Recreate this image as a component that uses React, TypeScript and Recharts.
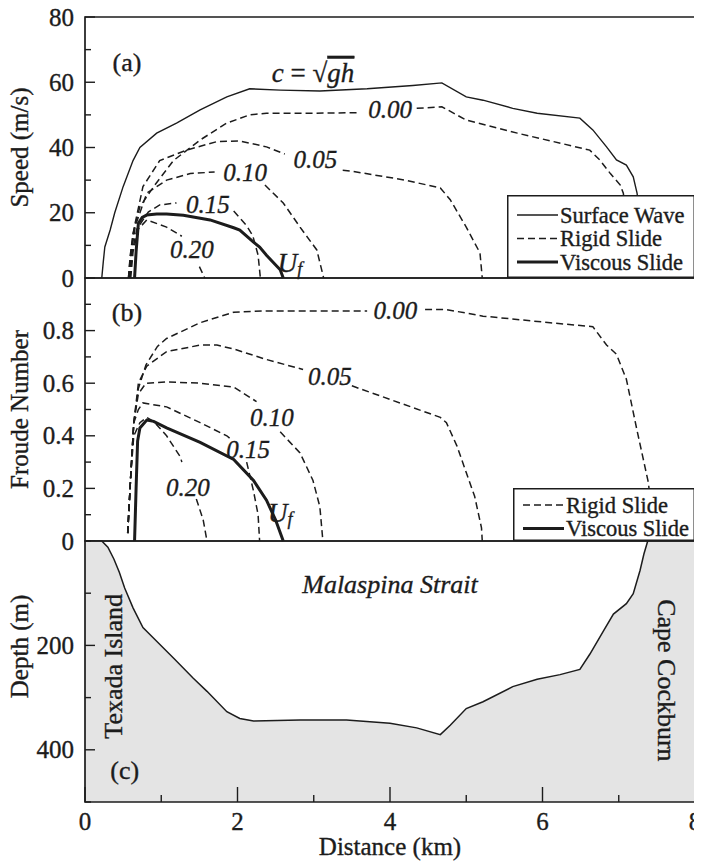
import React from 'react';
import {
  LineChart,
  ComposedChart,
  Line,
  Area,
  XAxis,
  YAxis,
  ReferenceArea,
  ReferenceDot,
  Legend,
} from 'recharts';

const FONT = 'Liberation Serif';
const INK = '#1c1c1c';
const LAND = '#e4e4e4';

type Pt = { x: number; y: number | null };
const pts = (arr: [number, number | null][]): Pt[] => arr.map(([x, y]) => ({ x, y }));

// ---------- Panel (a): speed (m/s) ----------
const surfaceWaveA = pts([
  [0.22, 0], [0.24, 5], [0.26, 9.5], [0.33, 14.7], [0.39, 20], [0.5, 28], [0.63, 36], [0.72, 40],
  [0.94, 44.4], [1.2, 47.5], [1.51, 51.5], [1.86, 55.5], [2.16, 58], [2.56, 57.6], [3.08, 57.3],
  [3.7, 58], [4.3, 59], [4.68, 59.8], [5.0, 55.5], [5.22, 54.5], [5.61, 52], [5.93, 50.5],
  [6.49, 49], [6.66, 45.4], [6.84, 40.2], [6.97, 36.2], [7.1, 34.6], [7.19, 31], [7.24, 26],
  [7.3, 15], [7.33, 0],
]);
const rigid000A = pts([
  [0.57, 0], [0.59, 6], [0.63, 13.8], [0.72, 21.8], [0.9, 28], [1.16, 36], [1.51, 42.3],
  [1.86, 47.5], [2.16, 50], [2.38, 50.5], [3.0, 50.5], [3.61, 50.7], [3.62, null], [4.35, 52],
  [4.68, 52.5], [5.0, 48.4], [5.67, 44.4], [6.62, 39.2], [6.75, 36.2], [6.89, 32], [7.02, 28.5],
  [7.06, 26], [7.12, 15], [7.15, 0],
]);
const rigid005A = pts([
  [0.57, 0], [0.6, 8], [0.65, 16], [0.76, 28], [0.98, 36], [1.33, 39.2], [1.73, 41.8], [2.03, 42],
  [2.38, 40.2], [2.62, 38], [2.63, null], [3.38, 33], [3.48, 32.8], [4.2, 30], [4.66, 27.6],
  [4.79, 24], [5.0, 15.6], [5.18, 7.7], [5.21, 0],
]);
const rigid010A = pts([
  [0.58, 0], [0.61, 8], [0.66, 16], [0.81, 26], [1.07, 30], [1.38, 32], [1.7, 32.5], [1.71, null],
  [2.36, 28.5], [2.6, 23], [2.82, 15.6], [3.04, 8.6], [3.13, 0],
]);
const rigid015A = pts([
  [0.59, 0], [0.62, 8], [0.68, 15], [0.83, 20.2], [0.98, 22.4], [1.2, 23], [1.22, null],
  [1.95, 20.5], [2.12, 16], [2.2, 13], [2.27, 7], [2.3, 0],
]);
const rigid020A = pts([
  [0.6, 0], [0.63, 8], [0.7, 15], [0.81, 17.8], [1.07, 15.6], [1.27, 12.8], [1.28, null],
  [1.5, 3.5], [1.57, 0],
]);
const viscousA = pts([
  [0.65, 0], [0.67, 8], [0.7, 16.8], [0.75, 18.6], [0.81, 19.3], [0.94, 19.6], [1.07, 19.6],
  [1.29, 19.2], [1.64, 17.8], [1.95, 15.4], [2.03, 14.7], [2.21, 11], [2.29, 9.5], [2.38, 7],
  [2.56, 2.5], [2.6, 0],
]);

// ---------- Panel (b): Froude number ----------
const rigid000B = pts([
  [0.56, 0.03], [0.6, 0.25], [0.64, 0.45], [0.7, 0.58], [0.8, 0.67], [0.95, 0.74], [1.07, 0.77],
  [1.51, 0.83], [1.95, 0.87], [2.38, 0.875], [3.0, 0.875], [3.7, 0.875], [3.71, null],
  [4.46, 0.88], [4.74, 0.88], [5.22, 0.855], [6.1, 0.83], [6.66, 0.815], [6.84, 0.745],
  [6.97, 0.71], [7.1, 0.615], [7.24, 0.42], [7.39, 0.22], [7.43, 0.1],
]);
const rigid005B = pts([
  [0.56, 0.03], [0.6, 0.25], [0.64, 0.45], [0.7, 0.6], [0.81, 0.665], [1.07, 0.72], [1.51, 0.745],
  [1.73, 0.745], [1.95, 0.73], [2.38, 0.69], [2.86, 0.652], [2.87, null], [3.5, 0.59],
  [4.13, 0.525], [4.66, 0.47], [4.74, 0.45], [4.88, 0.36], [5.0, 0.26], [5.11, 0.17],
  [5.2, 0.05], [5.21, 0],
]);
const rigid010B = pts([
  [0.56, 0.03], [0.6, 0.25], [0.64, 0.45], [0.7, 0.56], [0.8, 0.6], [1.07, 0.605], [1.51, 0.6],
  [1.95, 0.585], [2.25, 0.53], [2.26, null], [2.56, 0.415], [2.82, 0.335], [2.99, 0.23],
  [3.08, 0.13], [3.12, 0],
]);
const rigid015B = pts([
  [0.56, 0.03], [0.6, 0.25], [0.64, 0.45], [0.7, 0.5], [0.76, 0.525], [1.07, 0.51], [1.51, 0.45],
  [1.86, 0.4], [1.9, 0.39], [1.91, null], [2.12, 0.3], [2.21, 0.19], [2.27, 0.1], [2.29, 0],
]);
const rigid020B = pts([
  [0.56, 0.03], [0.6, 0.25], [0.64, 0.4], [0.72, 0.45], [0.81, 0.47], [0.9, 0.455], [1.07, 0.4],
  [1.25, 0.32], [1.27, 0.3], [1.28, null], [1.46, 0.16], [1.55, 0.08], [1.6, 0],
]);
const viscousB = pts([
  [0.65, 0], [0.67, 0.2], [0.69, 0.38], [0.72, 0.43], [0.81, 0.46], [0.9, 0.455], [1.07, 0.43],
  [1.51, 0.375], [1.95, 0.31], [2.21, 0.23], [2.38, 0.155], [2.5, 0.08], [2.6, 0],
]);

// ---------- Panel (c): bathymetry, depth (m) ----------
const bathymetry = pts([
  [0, 0], [0.22, 0], [0.3, 12], [0.38, 35], [0.45, 60], [0.52, 90], [0.63, 128], [0.76, 166],
  [0.94, 192], [1.16, 224], [1.42, 263], [1.6, 288], [1.86, 327], [2.03, 340], [2.21, 345],
  [2.82, 343], [3.43, 343], [4.0, 349], [4.35, 358], [4.66, 371], [4.79, 353], [5.0, 321],
  [5.22, 308], [5.61, 279], [5.93, 265], [6.23, 256], [6.49, 246], [6.62, 217], [6.8, 172],
  [6.93, 140], [7.1, 120], [7.19, 101], [7.28, 56], [7.33, 25], [7.38, 0], [8, 0],
]);

// ---------- ticks ----------
const distanceTicks = [0, 1, 2, 3, 4, 5, 6, 7, 8];
const distanceLabels = [0, 2, 4, 6, 8];
const speedTicks = [0, 10, 20, 30, 40, 50, 60, 70, 80];
const speedLabels = [0, 20, 40, 60, 80];
const froudeTicks = [0, 0.1, 0.2, 0.3, 0.4, 0.5, 0.6, 0.7, 0.8, 0.9];
const froudeLabels = [0, 0.2, 0.4, 0.6, 0.8];
const depthTicks = [0, 100, 200, 300, 400, 500];
const depthLabels = [200, 400];

// ---------- curve labels ----------
const speedCurveLabels: { x: number; y: number; t: string }[] = [
  { x: 4.0, y: 51.5, t: '0.00' },
  { x: 3.02, y: 36.2, t: '0.05' },
  { x: 2.1, y: 32.2, t: '0.10' },
  { x: 1.61, y: 22.4, t: '0.15' },
  { x: 1.4, y: 8.6, t: '0.20' },
];
const froudeCurveLabels: { x: number; y: number; t: string }[] = [
  { x: 4.07, y: 0.875, t: '0.00' },
  { x: 3.21, y: 0.627, t: '0.05' },
  { x: 2.45, y: 0.47, t: '0.10' },
  { x: 2.14, y: 0.347, t: '0.15' },
  { x: 1.35, y: 0.205, t: '0.20' },
];

const legendA = [
  { label: 'Surface Wave', w: 1.4, dash: undefined as string | undefined },
  { label: 'Rigid Slide', w: 1.5, dash: '7 4' },
  { label: 'Viscous Slide', w: 3, dash: undefined },
];
const legendB = [
  { label: 'Rigid Slide', w: 1.5, dash: '7 4' },
  { label: 'Viscous Slide', w: 3, dash: undefined as string | undefined },
];

const W = 702;
const MARGIN_R = 7;
const YAXIS_W = 85;
const DASH = '7 4';

const near = (list: number[], v: number) => list.some((l) => Math.abs(l - v) < 1e-9);

// slight stroke so the serif text carries the weight of the scanned original
const txtStyle = { fontFamily: FONT, stroke: INK, strokeWidth: 0.35 };

const makeYTick = (labels: number[]) => (props: any) => {
  const { x, y, payload } = props;
  const v = payload.value as number;
  const major = near(labels, v) || v === labels[labels.length - 1];
  const lab = near(labels, v);
  return (
    <g>
      <line x1={x} x2={x + (major ? 10 : 6)} y1={y} y2={y} stroke={INK} strokeWidth={1.4} />
      {lab && (
        <text x={x - 11} y={y} textAnchor="end" dominantBaseline="central" fontSize={25} fill={INK} style={txtStyle}>
          {String(v)}
        </text>
      )}
    </g>
  );
};

const XTick = (props: any) => {
  const { x, y, payload } = props;
  const v = payload.value as number;
  const major = near(distanceLabels, v);
  return (
    <g>
      <line x1={x} x2={x} y1={y} y2={y - (major ? 15 : 7)} stroke={INK} strokeWidth={1.4} />
      {major && (
        <text x={x} y={y + 28} textAnchor="middle" fontSize={25} fill={INK} style={txtStyle}>
          {String(v)}
        </text>
      )}
    </g>
  );
};

const YTitle = (props: any) => {
  const { viewBox, txt, shift = 0 } = props;
  const x = viewBox.x + 28;
  const y = viewBox.y + viewBox.height / 2 + shift;
  return (
    <text x={x} y={y} transform={`rotate(-90 ${x} ${y})`} textAnchor="middle" fontSize={25} fill={INK} style={txtStyle}>
      {txt}
    </text>
  );
};

const XTitle = (props: any) => {
  const { viewBox, txt } = props;
  const x = viewBox.x + viewBox.width / 2;
  const y = viewBox.y + 53;
  return (
    <text x={x} y={y} textAnchor="middle" fontSize={25} fill={INK} style={txtStyle}>
      {txt}
    </text>
  );
};

const Ann = (props: any) => {
  const { viewBox, txt, rot = 0, ital = false, fs = 25 } = props;
  const cx = viewBox.x + (viewBox.width || 0) / 2;
  const cy = viewBox.y + (viewBox.height || 0) / 2;
  return (
    <text
      x={cx}
      y={cy}
      textAnchor="middle"
      dominantBaseline="central"
      transform={rot ? `rotate(${rot} ${cx} ${cy})` : undefined}
      fontSize={fs}
      fill={INK}
      style={{ ...txtStyle, fontStyle: ital ? 'italic' : 'normal' }}
    >
      {txt}
    </text>
  );
};

const UfLabel = (props: any) => {
  const { viewBox } = props;
  const cx = viewBox.x + (viewBox.width || 0) / 2;
  const cy = viewBox.y + (viewBox.height || 0) / 2;
  return (
    <text x={cx} y={cy} textAnchor="middle" dominantBaseline="central" fontSize={27} fill={INK} style={{ ...txtStyle, fontStyle: 'italic' }}>
      <tspan>U</tspan>
      <tspan fontSize={18} dy={6}>f</tspan>
    </text>
  );
};

const CelerityLabel = (props: any) => {
  const { viewBox } = props;
  const x = viewBox.x + (viewBox.width || 0) / 2;
  const y = viewBox.y + (viewBox.height || 0) / 2;
  return (
    <text x={x} y={y} fontSize={27} fill={INK} style={txtStyle}>
      <tspan style={{ fontStyle: 'italic' }}>c</tspan>
      <tspan> = √</tspan>
      <tspan style={{ fontStyle: 'italic', textDecoration: 'overline' }}>gh</tspan>
    </text>
  );
};

const LegendBox = ({ items, w, h }: { items: typeof legendA; w: number; h: number }) => {
  const top = items.length === 3 ? 20 : 17;
  const step = 23.5;
  return (
    <svg width={w} height={h} style={{ display: 'block' }}>
      <rect x={0.75} y={0.75} width={w - 1.5} height={h - 1.5} fill="#fff" stroke={INK} strokeWidth={1.5} />
      {items.map((it, i) => {
        const y = top + i * step;
        return (
          <g key={it.label}>
            <line x1={10} x2={51} y1={y} y2={y} stroke={INK} strokeWidth={it.w} strokeDasharray={it.dash} />
            <text x={53} y={y} dominantBaseline="central" fontSize={22.5} fill={INK} style={txtStyle}>
              {it.label}
            </text>
          </g>
        );
      })}
    </svg>
  );
};

const thin = { stroke: INK, strokeWidth: 1.4, dot: false, activeDot: false, isAnimationActive: false, connectNulls: false, type: 'linear' as const };
const dashed = { ...thin, strokeWidth: 1.5, strokeDasharray: DASH };
const thick = { ...thin, strokeWidth: 3 };

export default function App() {
  return (
    <div style={{ position: 'relative', top: -8, left: -8, width: W, height: 868, fontFamily: FONT, background: '#fff' }}>
      {/* Panel (a) */}
      <div style={{ position: 'absolute', left: 0, top: 0 }}>
        <LineChart width={W} height={308} margin={{ top: 17, right: MARGIN_R, bottom: 30, left: 0 }}>
          <XAxis dataKey="x" type="number" domain={[0, 8]} hide allowDataOverflow />
          <YAxis
            type="number"
            domain={[0, 80]}
            ticks={speedTicks}
            interval={0}
            width={YAXIS_W}
            axisLine={false}
            tickLine={false}
            tickSize={0}
            tickMargin={0}
            tick={makeYTick(speedLabels)}
            label={<YTitle txt="Speed (m/s)" />}
          />
          <Line data={surfaceWaveA} dataKey="y" {...thin} />
          <Line data={rigid000A} dataKey="y" {...dashed} />
          <Line data={rigid005A} dataKey="y" {...dashed} />
          <Line data={rigid010A} dataKey="y" {...dashed} />
          <Line data={rigid015A} dataKey="y" {...dashed} />
          <Line data={rigid020A} dataKey="y" {...dashed} />
          <Line data={viscousA} dataKey="y" {...thick} />
          {speedCurveLabels.map((l) => (
            <ReferenceDot key={l.t} x={l.x} y={l.y} r={0} stroke="none" fill="none" label={<Ann txt={l.t} ital />} />
          ))}
          <ReferenceDot x={2.69} y={4.6} r={0} stroke="none" fill="none" label={<UfLabel />} />
          <ReferenceDot x={2.45} y={60.1} r={0} stroke="none" fill="none" label={<CelerityLabel />} />
          <ReferenceDot x={0.55} y={66} r={0} stroke="none" fill="none" label={<Ann txt="(a)" fs={26} />} />
          <ReferenceArea x1={0} x2={8} y1={0} y2={80} fill="none" stroke={INK} strokeWidth={1.7} />
          <Legend
            layout="vertical"
            align="center"
            verticalAlign="middle"
            wrapperStyle={{ left: 507, top: 195, width: 188, height: 83 }}
            content={() => <LegendBox items={legendA} w={188} h={83} />}
          />
        </LineChart>
      </div>

      {/* Panel (b) */}
      <div style={{ position: 'absolute', left: 0, top: 258 }}>
        <LineChart width={W} height={333} margin={{ top: 20, right: MARGIN_R, bottom: 50, left: 0 }}>
          <XAxis dataKey="x" type="number" domain={[0, 8]} hide allowDataOverflow />
          <YAxis
            type="number"
            domain={[0, 1]}
            ticks={froudeTicks}
            interval={0}
            width={YAXIS_W}
            axisLine={false}
            tickLine={false}
            tickSize={0}
            tickMargin={0}
            tick={makeYTick(froudeLabels)}
            label={<YTitle txt="Froude Number" />}
          />
          <Line data={rigid000B} dataKey="y" {...dashed} />
          <Line data={rigid005B} dataKey="y" {...dashed} />
          <Line data={rigid010B} dataKey="y" {...dashed} />
          <Line data={rigid015B} dataKey="y" {...dashed} />
          <Line data={rigid020B} dataKey="y" {...dashed} />
          <Line data={viscousB} dataKey="y" {...thick} />
          {froudeCurveLabels.map((l) => (
            <ReferenceDot key={l.t} x={l.x} y={l.y} r={0} stroke="none" fill="none" label={<Ann txt={l.t} ital />} />
          ))}
          <ReferenceDot x={2.56} y={0.106} r={0} stroke="none" fill="none" label={<UfLabel />} />
          <ReferenceDot x={0.55} y={0.87} r={0} stroke="none" fill="none" label={<Ann txt="(b)" fs={26} />} />
          <ReferenceArea x1={0} x2={8} y1={0} y2={1} fill="none" stroke={INK} strokeWidth={1.7} />
          <Legend
            layout="vertical"
            align="center"
            verticalAlign="middle"
            wrapperStyle={{ left: 513, top: 230, width: 182, height: 53 }}
            content={() => <LegendBox items={legendB} w={182} h={53} />}
          />
        </LineChart>
      </div>

      {/* Panel (c) */}
      <div style={{ position: 'absolute', left: 0, top: 521 }}>
        <ComposedChart width={W} height={347} margin={{ top: 20, right: MARGIN_R, bottom: 0, left: 0 }}>
          <XAxis
            dataKey="x"
            type="number"
            domain={[0, 8]}
            ticks={distanceTicks}
            interval={0}
            height={66}
            axisLine={false}
            tickLine={false}
            tickSize={0}
            tickMargin={0}
            tick={<XTick />}
            allowDataOverflow
            label={<XTitle txt="Distance (km)" />}
          />
          <YAxis
            type="number"
            domain={[0, 500]}
            reversed
            ticks={depthTicks}
            interval={0}
            width={YAXIS_W}
            axisLine={false}
            tickLine={false}
            tickSize={0}
            tickMargin={0}
            tick={makeYTick(depthLabels)}
            label={<YTitle txt="Depth (m)" shift={-25} />}
          />
          <Area
            data={bathymetry}
            dataKey="y"
            type="linear"
            baseValue={500}
            fill={LAND}
            fillOpacity={1}
            stroke={INK}
            strokeWidth={1.5}
            dot={false}
            activeDot={false}
            isAnimationActive={false}
          />
          <ReferenceDot x={4.0} y={84} r={0} stroke="none" fill="none" label={<Ann txt="Malaspina Strait" ital fs={26} />} />
          <ReferenceDot x={0.37} y={240} r={0} stroke="none" fill="none" label={<Ann txt="Texada Island" rot={-90} fs={26} />} />
          <ReferenceDot x={7.62} y={267} r={0} stroke="none" fill="none" label={<Ann txt="Cape Cockburn" rot={90} fs={26} />} />
          <ReferenceDot x={0.52} y={440} r={0} stroke="none" fill="none" label={<Ann txt="(c)" fs={26} />} />
          <ReferenceArea x1={0} x2={8} y1={0} y2={500} fill="none" stroke={INK} strokeWidth={1.7} />
        </ComposedChart>
      </div>
    </div>
  );
}
